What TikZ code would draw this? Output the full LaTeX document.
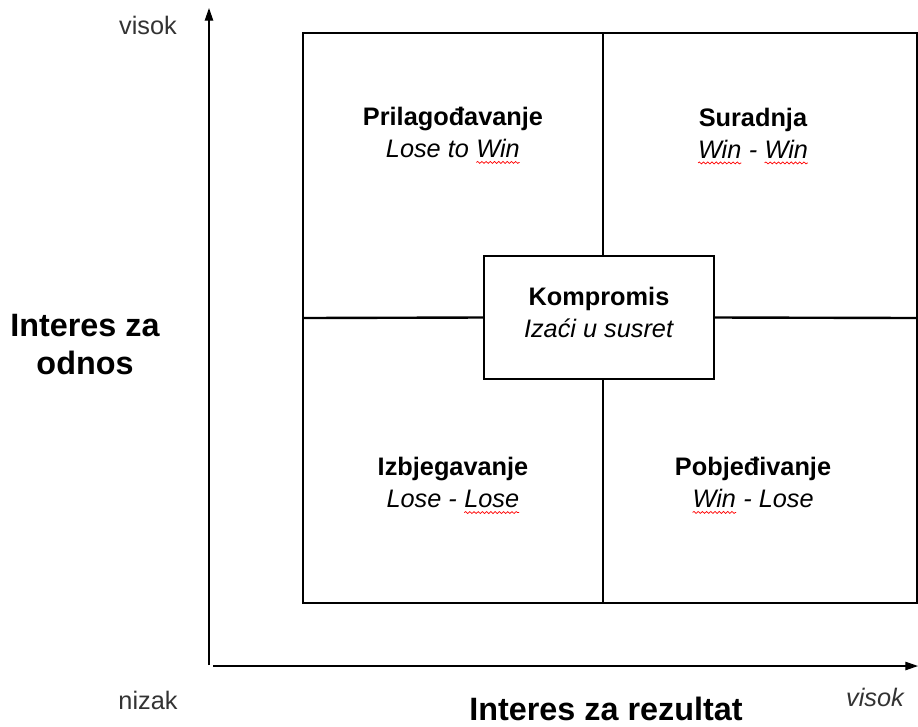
\documentclass[tikz,border=0pt]{standalone}
\usepackage{fontspec}
\setmainfont{Liberation Sans}
\usetikzlibrary{arrows.meta, decorations.pathmorphing}
\newcommand\redwave[1]{\tikz[baseline=(w.base)]{\node[inner sep=0pt, outer sep=0pt] (w) {#1};
\draw[red, line width=0.5pt, decorate, decoration={snake, amplitude=0.7pt, segment length=3pt}]
([yshift=-3.5pt]w.south west) -- ([yshift=-3.5pt]w.south east);}}

\begin{document}
\begin{tikzpicture}[x=0.025cm, y=-0.025cm,
quad/.style={align=center, font=\fontsize{18}{22.7}\selectfont},
axislabel/.style={align=center, font=\fontsize{23}{27}\selectfont\bfseries},
scalelabel/.style={font=\fontsize{18}{20}\selectfont, text=black!80},
gridline/.style={line width=0.8pt},
arrow/.style={-{Triangle[length=9pt, width=6pt]}, line width=0.9pt}
]
\useasboundingbox (0,0) rectangle (918,726);
% the grid
\node[gridline, draw, minimum width=614*0.025cm, minimum height=570*0.025cm, inner sep=0pt] (grid) at (610,318) {};
\node[gridline, draw, fill=white, minimum width=230*0.025cm, minimum height=123*0.025cm, inner sep=0pt] (komp) at (599,317.5) {};
\coordinate (top) at (603,33);
\coordinate (bottom) at (603,603);
\draw[gridline] (top) -- (top |- komp.north);
\draw[gridline] (bottom |- komp.south) -- (bottom);
\draw[line width=1.7pt] (grid.west) -- (komp.west);
\draw[line width=1.7pt] (komp.east) -- (grid.east);
% quadrant labels
\node[quad] (prilag) at (453,135.5) {\textbf{Prilagođavanje}\\\textit{Lose to \redwave{Win}}};
\node[quad] (surad) at (753,136) {\textbf{Suradnja}\\\textit{\redwave{Win} - \redwave{Win}}};
\node[quad] (kompl) at (599,312) {\textbf{Kompromis}\\\textit{Izaći u susret}};
\node[quad] (izbj) at (453,485.5) {\textbf{Izbjegavanje}\\\textit{Lose - \redwave{Lose}}};
\node[quad] (pobj) at (753,485.5) {\textbf{Pobjeđivanje}\\\textit{\redwave{Win} - Lose}};
% axes
\coordinate (yorig) at (209,665);
\coordinate (ytop) at (209,8);
\coordinate (xorig) at (213,666);
\coordinate (xend) at (918,666);
\draw[arrow] (yorig) -- (ytop);
\draw[arrow] (xorig) -- (xend);
\node[scalelabel] (ymax) at (148,25) {visok};
\node[scalelabel] (ymin) at (148,700) {nizak};
\node[scalelabel, font=\fontsize{18}{20}\selectfont\itshape] (xmax) at (875,697) {visok};
\node[axislabel] (ylabel) at (85,344.5) {Interes za\\odnos};
\node[axislabel, inner sep=1pt] (xlabel) at (606,709) {Interes za rezultat};
\end{tikzpicture}
\end{document}
